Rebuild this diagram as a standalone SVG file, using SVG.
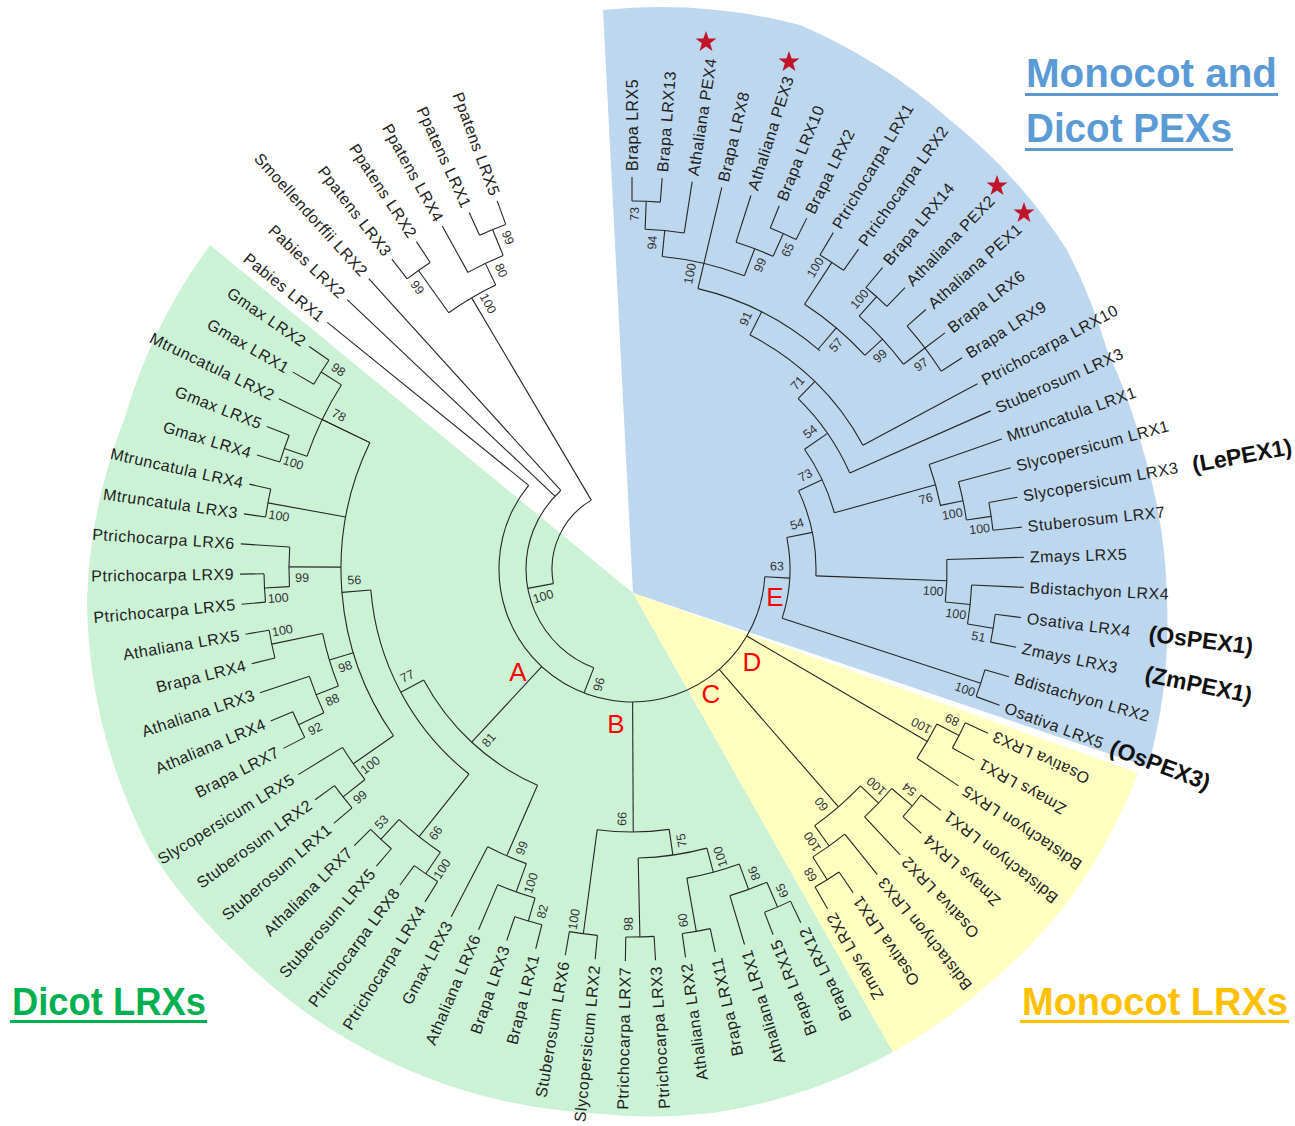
<svg xmlns="http://www.w3.org/2000/svg" width="1295" height="1126" viewBox="0 0 1295 1126">
<style>
.br line,.br circle{fill:none;stroke:#262626;stroke-width:1.1}
.lf text{font-family:"Liberation Sans",Arial,sans-serif;font-size:16px;letter-spacing:0.5px;fill:#222;dominant-baseline:central}
.lf text.f{text-anchor:end}
.bs text{font-family:"Liberation Sans",Arial,sans-serif;font-size:12.5px;fill:#333;text-anchor:middle;dominant-baseline:central}
.pex{font-family:"Liberation Sans",Arial,sans-serif;font-size:23px;font-weight:bold;fill:#111;dominant-baseline:central}
.ttl{font-family:"Liberation Sans",Arial,sans-serif;font-weight:bold;white-space:pre}
.cl{font-family:"Liberation Sans",Arial,sans-serif;font-size:26px;fill:#ff0000;text-anchor:middle;dominant-baseline:central}
</style>
<defs>
<polygon id="star" points="0,-11 2.59,-3.56 10.46,-3.4 4.18,1.36 6.47,8.9 0,4.4 -6.47,8.9 -4.18,1.36 -10.46,-3.4 -2.59,-3.56" fill="#c0142b"/>
</defs>
<rect width="1295" height="1126" fill="#ffffff"/>
<g id="backgrounds">
<path id="bg-dicot" fill="#ccf2d6" d="M633,593 L210,245 A548,548 0 0 0 125,417 A548,548 0 0 0 87,600 A548,548 0 0 0 150,850 A548,548 0 0 0 233,950 A548,548 0 0 0 380,1057 A548,548 0 0 0 590,1113 A548,548 0 0 0 713,1113 A548,548 0 0 0 893,1052 Z"/>
<path id="bg-pex" fill="#bdd7ee" d="M633,593 L603,10 A560,560 0 0 1 800,25 A560,560 0 0 1 950,120 A540,540 0 0 1 1067,250 A540,540 0 0 1 1107,350 A540,540 0 0 1 1143,450 A540,540 0 0 1 1167,600 A540,540 0 0 1 1148,767 Z"/>
<path id="bg-monocot" fill="#ffffc0" d="M633,593 L1138,773 A550,550 0 0 1 1067,903 A550,550 0 0 1 993,980 A550,550 0 0 1 893,1052 Z"/>
</g>
<g id="tree" transform="translate(632,569)">
<g id="connectors" class="br">
<line transform="rotate(-90)" x1="368" x2="392"/>
<line transform="rotate(-85.59)" x1="368" x2="392"/>
<line transform="rotate(-81.17)" x1="340" x2="392"/>
<line transform="rotate(-76.76)" x1="314" x2="392"/>
<line transform="rotate(-72.34)" x1="343" x2="392"/>
<line transform="rotate(-67.93)" x1="368" x2="392"/>
<line transform="rotate(-63.52)" x1="368" x2="392"/>
<line transform="rotate(-59.1)" x1="366" x2="392"/>
<line transform="rotate(-54.69)" x1="366" x2="392"/>
<line transform="rotate(-50.27)" x1="366" x2="392"/>
<line transform="rotate(-45.86)" x1="366" x2="392"/>
<line transform="rotate(-41.45)" x1="367" x2="392"/>
<line transform="rotate(-37.03)" x1="367" x2="392"/>
<line transform="rotate(-32.62)" x1="367" x2="392"/>
<line transform="rotate(-28.2)" x1="262" x2="392"/>
<line transform="rotate(-23.79)" x1="238" x2="392"/>
<line transform="rotate(-19.38)" x1="315" x2="392"/>
<line transform="rotate(-14.96)" x1="338" x2="392"/>
<line transform="rotate(-10.55)" x1="363" x2="392"/>
<line transform="rotate(-6.13)" x1="363" x2="392"/>
<line transform="rotate(-1.72)" x1="315" x2="392"/>
<line transform="rotate(2.69)" x1="340" x2="392"/>
<line transform="rotate(7.11)" x1="366" x2="392"/>
<line transform="rotate(11.52)" x1="366" x2="392"/>
<line transform="rotate(15.94)" x1="367" x2="392"/>
<line transform="rotate(20.35)" x1="367" x2="392"/>
<line transform="rotate(24.76)" x1="367" x2="392"/>
<line transform="rotate(29.18)" x1="367" x2="392"/>
<line transform="rotate(33.59)" x1="342" x2="392"/>
<line transform="rotate(38.01)" x1="367" x2="392"/>
<line transform="rotate(42.42)" x1="367" x2="392"/>
<line transform="rotate(46.83)" x1="340" x2="392"/>
<line transform="rotate(51.25)" x1="340" x2="392"/>
<line transform="rotate(55.66)" x1="367" x2="392"/>
<line transform="rotate(60.08)" x1="367" x2="392"/>
<line transform="rotate(64.49)" x1="368" x2="392"/>
<line transform="rotate(68.9)" x1="368" x2="392"/>
<line transform="rotate(73.32)" x1="341" x2="392"/>
<line transform="rotate(77.73)" x1="368" x2="392"/>
<line transform="rotate(82.15)" x1="368" x2="392"/>
<line transform="rotate(86.56)" x1="368" x2="392"/>
<line transform="rotate(90.97)" x1="368" x2="392"/>
<line transform="rotate(95.39)" x1="368" x2="392"/>
<line transform="rotate(99.8)" x1="368" x2="392"/>
<line transform="rotate(104.22)" x1="367" x2="392"/>
<line transform="rotate(108.63)" x1="367" x2="392"/>
<line transform="rotate(113.04)" x1="343" x2="392"/>
<line transform="rotate(117.46)" x1="313" x2="392"/>
<line transform="rotate(121.87)" x1="368" x2="392"/>
<line transform="rotate(126.29)" x1="368" x2="392"/>
<line transform="rotate(130.7)" x1="369" x2="392"/>
<line transform="rotate(135.11)" x1="369" x2="392"/>
<line transform="rotate(139.53)" x1="368" x2="392"/>
<line transform="rotate(143.94)" x1="368" x2="392"/>
<line transform="rotate(148.36)" x1="340" x2="392"/>
<line transform="rotate(152.77)" x1="368" x2="392"/>
<line transform="rotate(157.18)" x1="368" x2="392"/>
<line transform="rotate(161.6)" x1="340" x2="392"/>
<line transform="rotate(166.01)" x1="368" x2="392"/>
<line transform="rotate(170.43)" x1="368" x2="392"/>
<line transform="rotate(174.84)" x1="368" x2="392"/>
<line transform="rotate(179.25)" x1="368" x2="392"/>
<line transform="rotate(183.67)" x1="343" x2="392"/>
<line transform="rotate(188.08)" x1="370" x2="392"/>
<line transform="rotate(192.5)" x1="370" x2="392"/>
<line transform="rotate(196.91)" x1="368" x2="392"/>
<line transform="rotate(201.32)" x1="368" x2="392"/>
<line transform="rotate(205.74)" x1="291" x2="392"/>
<line transform="rotate(210.15)" x1="368" x2="392"/>
<line transform="rotate(214.57)" x1="368" x2="392"/>
<line transform="rotate(218.98)" x1="133" x2="392"/>
<line transform="rotate(223.39)" x1="106" x2="392"/>
<line transform="rotate(227.81)" x1="106" x2="392"/>
<line transform="rotate(232.22)" x1="367" x2="392"/>
<line transform="rotate(236.64)" x1="367" x2="392"/>
<line transform="rotate(241.05)" x1="339" x2="392"/>
<line transform="rotate(245.46)" x1="367" x2="392"/>
<line transform="rotate(249.88)" x1="367" x2="392"/>
<line transform="rotate(-87.79)" x1="340" x2="368"/>
<line transform="rotate(-84.48)" x1="314" x2="340"/>
<line transform="rotate(-65.72)" x1="343" x2="368"/>
<line transform="rotate(-69.03)" x1="314" x2="343"/>
<line transform="rotate(-76.76)" x1="288" x2="314"/>
<line transform="rotate(-56.9)" x1="316" x2="366"/>
<line transform="rotate(-48.07)" x1="340" x2="366"/>
<line transform="rotate(-37.03)" x1="340" x2="367"/>
<line transform="rotate(-42.55)" x1="316" x2="340"/>
<line transform="rotate(-49.73)" x1="288" x2="316"/>
<line transform="rotate(-63.24)" x1="262" x2="288"/>
<line transform="rotate(-45.72)" x1="238" x2="262"/>
<line transform="rotate(-34.75)" x1="210" x2="238"/>
<line transform="rotate(-8.34)" x1="338" x2="363"/>
<line transform="rotate(-11.65)" x1="315" x2="338"/>
<line transform="rotate(-15.51)" x1="210" x2="315"/>
<line transform="rotate(-25.13)" x1="184" x2="210"/>
<line transform="rotate(9.31)" x1="340" x2="366"/>
<line transform="rotate(6)" x1="315" x2="340"/>
<line transform="rotate(2.14)" x1="184" x2="315"/>
<line transform="rotate(-11.49)" x1="158" x2="184"/>
<line transform="rotate(18.14)" x1="158" x2="367"/>
<line transform="rotate(3.32)" x1="133" x2="158"/>
<line transform="rotate(26.97)" x1="342" x2="367"/>
<line transform="rotate(30.28)" x1="133" x2="342"/>
<line transform="rotate(40.21)" x1="340" x2="367"/>
<line transform="rotate(43.52)" x1="315" x2="340"/>
<line transform="rotate(57.87)" x1="340" x2="367"/>
<line transform="rotate(54.56)" x1="315" x2="340"/>
<line transform="rotate(49.04)" x1="133" x2="315"/>
<line transform="rotate(66.7)" x1="341" x2="368"/>
<line transform="rotate(70.01)" x1="314" x2="341"/>
<line transform="rotate(79.94)" x1="314" x2="368"/>
<line transform="rotate(74.98)" x1="289" x2="314"/>
<line transform="rotate(88.77)" x1="289" x2="368"/>
<line transform="rotate(81.87)" x1="263" x2="289"/>
<line transform="rotate(97.6)" x1="263" x2="368"/>
<line transform="rotate(89.73)" x1="133" x2="263"/>
<line transform="rotate(106.42)" x1="343" x2="367"/>
<line transform="rotate(109.73)" x1="313" x2="343"/>
<line transform="rotate(113.59)" x1="236" x2="313"/>
<line transform="rotate(124.08)" x1="342" x2="368"/>
<line transform="rotate(132.91)" x1="342" x2="369"/>
<line transform="rotate(128.5)" x1="262" x2="342"/>
<line transform="rotate(141.74)" x1="340" x2="368"/>
<line transform="rotate(145.05)" x1="291" x2="340"/>
<line transform="rotate(154.98)" x1="340" x2="368"/>
<line transform="rotate(158.29)" x1="316" x2="340"/>
<line transform="rotate(168.22)" x1="316" x2="368"/>
<line transform="rotate(163.26)" x1="291" x2="316"/>
<line transform="rotate(177.05)" x1="343" x2="368"/>
<line transform="rotate(180.36)" x1="291" x2="343"/>
<line transform="rotate(190.29)" x1="291" x2="370"/>
<line transform="rotate(199.12)" x1="344" x2="368"/>
<line transform="rotate(212.36)" x1="344" x2="368"/>
<line transform="rotate(205.74)" x1="291" x2="344"/>
<line transform="rotate(175.4)" x1="262" x2="291"/>
<line transform="rotate(151.95)" x1="236" x2="262"/>
<line transform="rotate(132.77)" x1="133" x2="236"/>
<line transform="rotate(111.15)" x1="106" x2="133"/>
<line transform="rotate(169.48)" x1="80" x2="106"/>
<line transform="rotate(234.43)" x1="315" x2="367"/>
<line transform="rotate(247.67)" x1="339" x2="367"/>
<line transform="rotate(244.36)" x1="315" x2="339"/>
<line transform="rotate(239.4)" x1="80" x2="315"/>
<circle r="368" pathLength="360" stroke-dasharray="4.41 999" transform="rotate(-90)"/>
<circle r="340" pathLength="360" stroke-dasharray="6.62 999" transform="rotate(-87.79)"/>
<circle r="368" pathLength="360" stroke-dasharray="4.41 999" transform="rotate(-67.93)"/>
<circle r="343" pathLength="360" stroke-dasharray="6.62 999" transform="rotate(-72.34)"/>
<circle r="314" pathLength="360" stroke-dasharray="15.45 999" transform="rotate(-84.48)"/>
<circle r="366" pathLength="360" stroke-dasharray="4.41 999" transform="rotate(-59.1)"/>
<circle r="366" pathLength="360" stroke-dasharray="4.41 999" transform="rotate(-50.27)"/>
<circle r="367" pathLength="360" stroke-dasharray="8.83 999" transform="rotate(-41.45)"/>
<circle r="340" pathLength="360" stroke-dasharray="11.04 999" transform="rotate(-48.07)"/>
<circle r="316" pathLength="360" stroke-dasharray="14.35 999" transform="rotate(-56.9)"/>
<circle r="288" pathLength="360" stroke-dasharray="27.52 999" transform="rotate(-76.76)"/>
<circle r="262" pathLength="360" stroke-dasharray="35.04 999" transform="rotate(-63.24)"/>
<circle r="238" pathLength="360" stroke-dasharray="21.93 999" transform="rotate(-45.72)"/>
<circle r="363" pathLength="360" stroke-dasharray="4.42 999" transform="rotate(-10.55)"/>
<circle r="338" pathLength="360" stroke-dasharray="6.62 999" transform="rotate(-14.96)"/>
<circle r="315" pathLength="360" stroke-dasharray="7.87 999" transform="rotate(-19.38)"/>
<circle r="210" pathLength="360" stroke-dasharray="19.24 999" transform="rotate(-34.75)"/>
<circle r="366" pathLength="360" stroke-dasharray="4.41 999" transform="rotate(7.11)"/>
<circle r="340" pathLength="360" stroke-dasharray="6.62 999" transform="rotate(2.69)"/>
<circle r="315" pathLength="360" stroke-dasharray="7.72 999" transform="rotate(-1.72)"/>
<circle r="184" pathLength="360" stroke-dasharray="27.27 999" transform="rotate(-25.13)"/>
<circle r="367" pathLength="360" stroke-dasharray="4.41 999" transform="rotate(15.94)"/>
<circle r="158" pathLength="360" stroke-dasharray="29.63 999" transform="rotate(-11.49)"/>
<circle r="367" pathLength="360" stroke-dasharray="4.42 999" transform="rotate(24.76)"/>
<circle r="342" pathLength="360" stroke-dasharray="6.62 999" transform="rotate(26.97)"/>
<circle r="367" pathLength="360" stroke-dasharray="4.41 999" transform="rotate(38.01)"/>
<circle r="340" pathLength="360" stroke-dasharray="6.62 999" transform="rotate(40.21)"/>
<circle r="367" pathLength="360" stroke-dasharray="4.42 999" transform="rotate(55.66)"/>
<circle r="340" pathLength="360" stroke-dasharray="6.62 999" transform="rotate(51.25)"/>
<circle r="315" pathLength="360" stroke-dasharray="11.04 999" transform="rotate(43.52)"/>
<circle r="368" pathLength="360" stroke-dasharray="4.41 999" transform="rotate(64.49)"/>
<circle r="341" pathLength="360" stroke-dasharray="6.62 999" transform="rotate(66.7)"/>
<circle r="368" pathLength="360" stroke-dasharray="4.42 999" transform="rotate(77.73)"/>
<circle r="314" pathLength="360" stroke-dasharray="9.93 999" transform="rotate(70.01)"/>
<circle r="368" pathLength="360" stroke-dasharray="4.41 999" transform="rotate(86.56)"/>
<circle r="289" pathLength="360" stroke-dasharray="13.79 999" transform="rotate(74.98)"/>
<circle r="368" pathLength="360" stroke-dasharray="4.41 999" transform="rotate(95.39)"/>
<circle r="263" pathLength="360" stroke-dasharray="15.73 999" transform="rotate(81.87)"/>
<circle r="367" pathLength="360" stroke-dasharray="4.41 999" transform="rotate(104.22)"/>
<circle r="343" pathLength="360" stroke-dasharray="6.62 999" transform="rotate(106.42)"/>
<circle r="313" pathLength="360" stroke-dasharray="7.73 999" transform="rotate(109.73)"/>
<circle r="368" pathLength="360" stroke-dasharray="4.42 999" transform="rotate(121.87)"/>
<circle r="369" pathLength="360" stroke-dasharray="4.41 999" transform="rotate(130.7)"/>
<circle r="342" pathLength="360" stroke-dasharray="8.83 999" transform="rotate(124.08)"/>
<circle r="368" pathLength="360" stroke-dasharray="4.41 999" transform="rotate(139.53)"/>
<circle r="340" pathLength="360" stroke-dasharray="6.62 999" transform="rotate(141.74)"/>
<circle r="368" pathLength="360" stroke-dasharray="4.41 999" transform="rotate(152.77)"/>
<circle r="340" pathLength="360" stroke-dasharray="6.62 999" transform="rotate(154.98)"/>
<circle r="368" pathLength="360" stroke-dasharray="4.42 999" transform="rotate(166.01)"/>
<circle r="316" pathLength="360" stroke-dasharray="9.93 999" transform="rotate(158.29)"/>
<circle r="368" pathLength="360" stroke-dasharray="4.41 999" transform="rotate(174.84)"/>
<circle r="343" pathLength="360" stroke-dasharray="6.62 999" transform="rotate(177.05)"/>
<circle r="370" pathLength="360" stroke-dasharray="4.42 999" transform="rotate(188.08)"/>
<circle r="368" pathLength="360" stroke-dasharray="4.41 999" transform="rotate(196.91)"/>
<circle r="368" pathLength="360" stroke-dasharray="4.42 999" transform="rotate(210.15)"/>
<circle r="344" pathLength="360" stroke-dasharray="13.24 999" transform="rotate(199.12)"/>
<circle r="291" pathLength="360" stroke-dasharray="60.69 999" transform="rotate(145.05)"/>
<circle r="262" pathLength="360" stroke-dasharray="46.9 999" transform="rotate(128.5)"/>
<circle r="236" pathLength="360" stroke-dasharray="38.36 999" transform="rotate(113.59)"/>
<circle r="133" pathLength="360" stroke-dasharray="215.66 999" transform="rotate(3.32)"/>
<circle r="106" pathLength="360" stroke-dasharray="116.66 999" transform="rotate(111.15)"/>
<circle r="80" pathLength="360" stroke-dasharray="69.92 999" transform="rotate(169.48)"/>
<circle r="367" pathLength="360" stroke-dasharray="4.42 999" transform="rotate(232.22)"/>
<circle r="367" pathLength="360" stroke-dasharray="4.42 999" transform="rotate(245.46)"/>
<circle r="339" pathLength="360" stroke-dasharray="6.62 999" transform="rotate(241.05)"/>
<circle r="315" pathLength="360" stroke-dasharray="9.93 999" transform="rotate(234.43)"/>
</g>
<g id="leaves" class="lf">
<g id="leaf-01"><text transform="rotate(-90)" x="398">Brapa LRX5</text></g>
<g id="leaf-02"><text transform="rotate(-85.59)" x="398">Brapa LRX13</text></g>
<g id="leaf-03"><text transform="rotate(-81.17)" x="398">Athaliana PEX4</text></g>
<g id="leaf-04"><text transform="rotate(-76.76)" x="398">Brapa LRX8</text></g>
<g id="leaf-05"><text transform="rotate(-72.34)" x="398">Athaliana PEX3</text></g>
<g id="leaf-06"><text transform="rotate(-67.93)" x="398">Brapa LRX10</text></g>
<g id="leaf-07"><text transform="rotate(-63.52)" x="398">Brapa LRX2</text></g>
<g id="leaf-08"><text transform="rotate(-59.1)" x="398">Ptrichocarpa LRX1</text></g>
<g id="leaf-09"><text transform="rotate(-54.69)" x="398">Ptrichocarpa LRX2</text></g>
<g id="leaf-10"><text transform="rotate(-50.27)" x="398">Brapa LRX14</text></g>
<g id="leaf-11"><text transform="rotate(-45.86)" x="398">Athaliana PEX2</text></g>
<g id="leaf-12"><text transform="rotate(-41.45)" x="398">Athaliana PEX1</text></g>
<g id="leaf-13"><text transform="rotate(-37.03)" x="398">Brapa LRX6</text></g>
<g id="leaf-14"><text transform="rotate(-32.62)" x="398">Brapa LRX9</text></g>
<g id="leaf-15"><text transform="rotate(-28.2)" x="398">Ptrichocarpa LRX10</text></g>
<g id="leaf-16"><text transform="rotate(-23.79)" x="398">Stuberosum LRX3</text></g>
<g id="leaf-17"><text transform="rotate(-19.38)" x="398">Mtruncatula LRX1</text></g>
<g id="leaf-18"><text transform="rotate(-14.96)" x="398">Slycopersicum LRX1</text></g>
<g id="leaf-19"><text transform="rotate(-10.55)" x="398">Slycopersicum LRX3</text></g>
<g id="leaf-20"><text transform="rotate(-6.13)" x="398">Stuberosum LRX7</text></g>
<g id="leaf-21"><text transform="rotate(-1.72)" x="398">Zmays LRX5</text></g>
<g id="leaf-22"><text transform="rotate(2.69)" x="398">Bdistachyon LRX4</text></g>
<g id="leaf-23"><text transform="rotate(7.11)" x="398">Osativa LRX4</text></g>
<g id="leaf-24"><text transform="rotate(11.52)" x="398">Zmays LRX3</text></g>
<g id="leaf-25"><text transform="rotate(15.94)" x="398">Bdistachyon LRX2</text></g>
<g id="leaf-26"><text transform="rotate(20.35)" x="398">Osativa LRX5</text></g>
<g id="leaf-27"><text class="f" transform="rotate(204.76)" x="-398">Osativa LRX3</text></g>
<g id="leaf-28"><text class="f" transform="rotate(209.18)" x="-398">Zmays LRX1</text></g>
<g id="leaf-29"><text class="f" transform="rotate(213.59)" x="-398">Bdistachyon LRX5</text></g>
<g id="leaf-30"><text class="f" transform="rotate(218.01)" x="-398">Bdistachyon LRX1</text></g>
<g id="leaf-31"><text class="f" transform="rotate(222.42)" x="-398">Zmays LRX4</text></g>
<g id="leaf-32"><text class="f" transform="rotate(226.83)" x="-398">Osativa LRX2</text></g>
<g id="leaf-33"><text class="f" transform="rotate(231.25)" x="-398">Bdistachyon LRX3</text></g>
<g id="leaf-34"><text class="f" transform="rotate(235.66)" x="-398">Osativa LRX1</text></g>
<g id="leaf-35"><text class="f" transform="rotate(240.08)" x="-398">Zmays LRX2</text></g>
<g id="leaf-36"><text class="f" transform="rotate(244.49)" x="-398">Brapa LRX12</text></g>
<g id="leaf-37"><text class="f" transform="rotate(248.9)" x="-398">Brapa LRX15</text></g>
<g id="leaf-38"><text class="f" transform="rotate(253.32)" x="-398">Athaliana LRX1</text></g>
<g id="leaf-39"><text class="f" transform="rotate(257.73)" x="-398">Brapa LRX11</text></g>
<g id="leaf-40"><text class="f" transform="rotate(262.15)" x="-398">Athaliana LRX2</text></g>
<g id="leaf-41"><text class="f" transform="rotate(266.56)" x="-398">Ptrichocarpa LRX3</text></g>
<g id="leaf-42"><text class="f" transform="rotate(270.97)" x="-398">Ptrichocarpa LRX7</text></g>
<g id="leaf-43"><text class="f" transform="rotate(275.39)" x="-398">Slycopersicum LRX2</text></g>
<g id="leaf-44"><text class="f" transform="rotate(279.8)" x="-398">Stuberosum LRX6</text></g>
<g id="leaf-45"><text class="f" transform="rotate(284.22)" x="-398">Brapa LRX1</text></g>
<g id="leaf-46"><text class="f" transform="rotate(288.63)" x="-398">Brapa LRX3</text></g>
<g id="leaf-47"><text class="f" transform="rotate(293.04)" x="-398">Athaliana LRX6</text></g>
<g id="leaf-48"><text class="f" transform="rotate(297.46)" x="-398">Gmax LRX3</text></g>
<g id="leaf-49"><text class="f" transform="rotate(301.87)" x="-398">Ptrichocarpa LRX4</text></g>
<g id="leaf-50"><text class="f" transform="rotate(306.29)" x="-398">Ptrichocarpa LRX8</text></g>
<g id="leaf-51"><text class="f" transform="rotate(310.7)" x="-398">Stuberosum LRX5</text></g>
<g id="leaf-52"><text class="f" transform="rotate(315.11)" x="-398">Athaliana LRX7</text></g>
<g id="leaf-53"><text class="f" transform="rotate(319.53)" x="-398">Stuberosum LRX1</text></g>
<g id="leaf-54"><text class="f" transform="rotate(323.94)" x="-398">Stuberosum LRX2</text></g>
<g id="leaf-55"><text class="f" transform="rotate(328.36)" x="-398">Slycopersicum LRX5</text></g>
<g id="leaf-56"><text class="f" transform="rotate(332.77)" x="-398">Brapa LRX7</text></g>
<g id="leaf-57"><text class="f" transform="rotate(337.18)" x="-398">Athaliana LRX4</text></g>
<g id="leaf-58"><text class="f" transform="rotate(341.6)" x="-398">Athaliana LRX3</text></g>
<g id="leaf-59"><text class="f" transform="rotate(346.01)" x="-398">Brapa LRX4</text></g>
<g id="leaf-60"><text class="f" transform="rotate(350.43)" x="-398">Athaliana LRX5</text></g>
<g id="leaf-61"><text class="f" transform="rotate(354.84)" x="-398">Ptrichocarpa LRX5</text></g>
<g id="leaf-62"><text class="f" transform="rotate(359.25)" x="-398">Ptrichocarpa LRX9</text></g>
<g id="leaf-63"><text class="f" transform="rotate(363.67)" x="-398">Ptrichocarpa LRX6</text></g>
<g id="leaf-64"><text class="f" transform="rotate(368.08)" x="-398">Mtruncatula LRX3</text></g>
<g id="leaf-65"><text class="f" transform="rotate(372.5)" x="-398">Mtruncatula LRX4</text></g>
<g id="leaf-66"><text class="f" transform="rotate(376.91)" x="-398">Gmax LRX4</text></g>
<g id="leaf-67"><text class="f" transform="rotate(381.32)" x="-398">Gmax LRX5</text></g>
<g id="leaf-68"><text class="f" transform="rotate(385.74)" x="-398">Mtruncatula LRX2</text></g>
<g id="leaf-69"><text class="f" transform="rotate(390.15)" x="-398">Gmax LRX1</text></g>
<g id="leaf-70"><text class="f" transform="rotate(394.57)" x="-398">Gmax LRX2</text></g>
<g id="leaf-71"><text class="f" transform="rotate(398.98)" x="-398">Pabies LRX1</text></g>
<g id="leaf-72"><text class="f" transform="rotate(403.39)" x="-398">Pabies LRX2</text></g>
<g id="leaf-73"><text class="f" transform="rotate(407.81)" x="-398">Smoellendorffii LRX2</text></g>
<g id="leaf-74"><text class="f" transform="rotate(412.22)" x="-398">Ppatens LRX3</text></g>
<g id="leaf-75"><text class="f" transform="rotate(416.64)" x="-398">Ppatens LRX2</text></g>
<g id="leaf-76"><text class="f" transform="rotate(421.05)" x="-398">Ppatens LRX4</text></g>
<g id="leaf-77"><text class="f" transform="rotate(425.46)" x="-398">Ppatens LRX1</text></g>
<g id="leaf-78"><text class="f" transform="rotate(429.88)" x="-398">Ppatens LRX5</text></g>
</g>
<g id="bootstrap" class="bs">
<text transform="rotate(-89.56)" x="355">73</text>
<text transform="rotate(-86.41)" x="327">94</text>
<text transform="rotate(-63.95)" x="355">65</text>
<text transform="rotate(-67.12)" x="330">99</text>
<text transform="rotate(-78.85)" x="301">100</text>
<text transform="rotate(-58.68)" x="353">100</text>
<text transform="rotate(-49.85)" x="353">100</text>
<text transform="rotate(-35.25)" x="354">97</text>
<text transform="rotate(-40.62)" x="327">99</text>
<text transform="rotate(-47.65)" x="303">57</text>
<text transform="rotate(-65.53)" x="275">91</text>
<text transform="rotate(-48.25)" x="249">71</text>
<text transform="rotate(-37.55)" x="225">54</text>
<text transform="rotate(-28.33)" x="197">73</text>
<text transform="rotate(-13.42)" x="302">76</text>
<text transform="rotate(-9.71)" x="325">100</text>
<text transform="rotate(-6.54)" x="350">100</text>
<text transform="rotate(-15.17)" x="171">54</text>
<text transform="rotate(4.23)" x="302">100</text>
<text transform="rotate(7.93)" x="327">100</text>
<text transform="rotate(11.09)" x="353">51</text>
<text transform="rotate(19.92)" x="354">100</text>
<text transform="rotate(-1.02)" x="145">63</text>
<text transform="rotate(205.19)" x="-354">89</text>
<text transform="rotate(208.37)" x="-329">100</text>
<text transform="rotate(218.43)" x="-354">54</text>
<text transform="rotate(221.59)" x="-327">100</text>
<text transform="rotate(239.65)" x="-354">68</text>
<text transform="rotate(236.49)" x="-327">100</text>
<text transform="rotate(231.13)" x="-302">60</text>
<text transform="rotate(244.93)" x="-355">65</text>
<text transform="rotate(248.09)" x="-328">86</text>
<text transform="rotate(261.71)" x="-355">60</text>
<text transform="rotate(252.89)" x="-301">100</text>
<text transform="rotate(270.54)" x="-355">98</text>
<text transform="rotate(259.59)" x="-276">75</text>
<text transform="rotate(279.37)" x="-355">100</text>
<text transform="rotate(272.25)" x="-250">66</text>
<text transform="rotate(284.64)" x="-354">82</text>
<text transform="rotate(287.82)" x="-330">100</text>
<text transform="rotate(291.49)" x="-300">99</text>
<text transform="rotate(302.31)" x="-355">100</text>
<text transform="rotate(314.68)" x="-356">53</text>
<text transform="rotate(306.59)" x="-329">66</text>
<text transform="rotate(319.97)" x="-355">99</text>
<text transform="rotate(323.12)" x="-327">100</text>
<text transform="rotate(333.21)" x="-355">92</text>
<text transform="rotate(336.36)" x="-327">88</text>
<text transform="rotate(349.99)" x="-355">100</text>
<text transform="rotate(341.18)" x="-303">98</text>
<text transform="rotate(355.28)" x="-355">100</text>
<text transform="rotate(358.45)" x="-330">99</text>
<text transform="rotate(368.53)" x="-357">100</text>
<text transform="rotate(377.35)" x="-355">100</text>
<text transform="rotate(394.13)" x="-355">98</text>
<text transform="rotate(387.64)" x="-331">78</text>
<text transform="rotate(357.67)" x="-278">56</text>
<text transform="rotate(334.48)" x="-249">77</text>
<text transform="rotate(309.94)" x="-223">81</text>
<text transform="rotate(285.9)" x="-120">96</text>
<text transform="rotate(342.7)" x="-93">100</text>
<text transform="rotate(412.65)" x="-354">99</text>
<text transform="rotate(429.45)" x="-354">99</text>
<text transform="rotate(426.29)" x="-326">80</text>
<text transform="rotate(421.49)" x="-302">100</text>
</g>
<g id="pex-names" class="pex">
<text transform="rotate(-10.55)" x="570">(LePEX1)</text>
<text transform="rotate(7.11)" x="521">(OsPEX1)</text>
<text transform="rotate(11.52)" x="524">(ZmPEX1)</text>
<text transform="rotate(20.35)" x="511">(OsPEX3)</text>
</g>
</g>
<g id="stars">
<use href="#star" x="706" y="42"/>
<use href="#star" x="789" y="62"/>
<use href="#star" x="997" y="186"/>
<use href="#star" x="1024" y="213"/>
</g>
<g id="clade-letters" class="cl">
<text x="518" y="672">A</text>
<text x="616" y="724">B</text>
<text x="711" y="694">C</text>
<text x="752" y="662">D</text>
<text x="775" y="597">E</text>
</g>
<g id="titles" class="ttl">
<g id="title-pex" fill="#5b9bd5">
<text x="1026" y="87" font-size="40" textLength="251" lengthAdjust="spacingAndGlyphs">Monocot and</text>
<text x="1026" y="142" font-size="40" textLength="206" lengthAdjust="spacingAndGlyphs">Dicot  PEXs</text>
<rect x="1025" y="93" width="253" height="3"/>
<rect x="1025" y="148" width="208" height="3"/>
</g>
<g id="title-dicot" fill="#00b050">
<text x="12" y="1015" font-size="38" textLength="194" lengthAdjust="spacingAndGlyphs">Dicot LRXs</text>
<rect x="10" y="1020" width="197" height="3"/>
</g>
<g id="title-monocot" fill="#ffc000">
<text x="1022" y="1015" font-size="38" textLength="266" lengthAdjust="spacingAndGlyphs">Monocot LRXs</text>
<rect x="1020" y="1020" width="269" height="3"/>
</g>
</g>
</svg>
